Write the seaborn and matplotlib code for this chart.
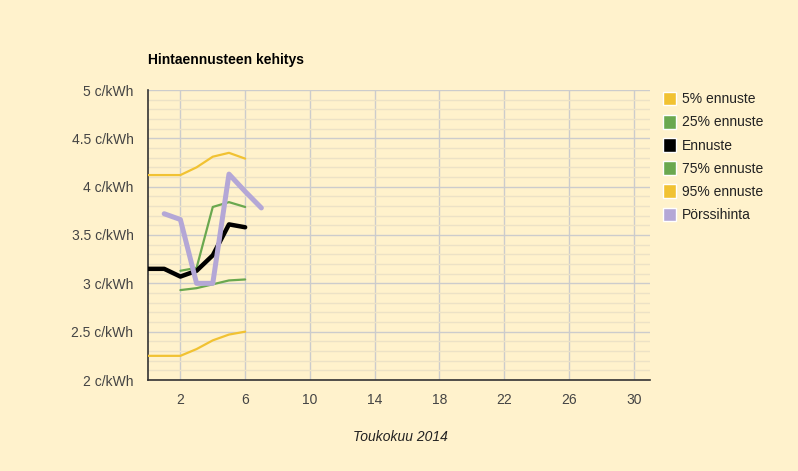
import matplotlib
matplotlib.use("Agg")
import matplotlib.pyplot as plt
from matplotlib.patches import Patch
from matplotlib.ticker import MultipleLocator, FixedLocator
import numpy as np
import pandas as pd
import seaborn as sns

# Päivät (toukokuu 2014) ja ennusteet c/kWh
paivat_ennuste = [0, 1, 2, 3, 4, 5, 6]
ennuste_5 = [2.25, 2.25, 2.25, 2.32, 2.41, 2.47, 2.50]
ennuste = [3.15, 3.15, 3.07, 3.13, 3.29, 3.61, 3.58]
ennuste_95 = [4.12, 4.12, 4.12, 4.20, 4.31, 4.35, 4.29]

paivat_kvartiili = [2, 3, 4, 5, 6]
ennuste_25 = [2.93, 2.95, 2.99, 3.03, 3.04]
ennuste_75 = [3.13, 3.16, 3.79, 3.84, 3.79]

paivat_porssi = [1, 2, 3, 4, 5, 6, 7]
porssihinta = [3.72, 3.66, 3.00, 3.00, 4.13, 3.95, 3.78]

x_tikit = [2, 6, 10, 14, 18, 22, 26, 30]
y_tikit = [2, 2.5, 3, 3.5, 4, 4.5, 5]

KELTAINEN = "#f1c232"
VIHREA = "#6aa84f"
MUSTA = "#000000"
VIOLETTI = "#b4a7d6"
TAUSTA = "#fff2cc"

sns.set_theme(style="white")
plt.rcParams["font.family"] = ["Liberation Sans", "DejaVu Sans"]

fig = plt.figure(figsize=(7.98, 4.71), dpi=100, facecolor=TAUSTA)
ax = fig.add_axes([148 / 798, 91 / 471, 502 / 798, 290 / 471])
ax.set_facecolor(TAUSTA)

sarjat = [
    (paivat_ennuste, ennuste_5, KELTAINEN, 1.6),
    (paivat_kvartiili, ennuste_25, VIHREA, 1.6),
    (paivat_ennuste, ennuste_95, KELTAINEN, 1.6),
    (paivat_kvartiili, ennuste_75, VIHREA, 1.6),
    (paivat_ennuste, ennuste, MUSTA, 3.2),
    (paivat_porssi, porssihinta, VIOLETTI, 3.6),
]
for x, y, vari, lw in sarjat:
    sns.lineplot(x=x, y=y, color=vari, linewidth=lw, ax=ax, zorder=3)

ax.set_xlim(0, 31)
ax.set_ylim(2, 5)
ax.xaxis.set_major_locator(FixedLocator(x_tikit))
ax.yaxis.set_major_locator(FixedLocator(y_tikit))
ax.yaxis.set_minor_locator(MultipleLocator(0.1))
ax.set_yticklabels([f"{v:g} c/kWh" for v in y_tikit])

ax.grid(which="major", axis="both", color="#cccccc", linewidth=1, zorder=1)
ax.grid(which="minor", axis="y", color="#ece2c6", linewidth=1, zorder=0)
ax.set_axisbelow(True)

for s in ["top", "right"]:
    ax.spines[s].set_visible(False)
for s in ["left", "bottom"]:
    ax.spines[s].set_color("#333333")
    ax.spines[s].set_linewidth(1.2)

ax.tick_params(axis="both", which="both", length=0, labelsize=10, colors="#444444")
ax.tick_params(axis="y", pad=10.5)
ax.tick_params(axis="x", pad=9)

ax.set_xlabel("")
ax.set_ylabel("")
fig.text(400 / 798, 1 - 437 / 471, "Toukokuu 2014", ha="center", va="center",
         fontsize=10, style="italic", color="#222222")
fig.text(148 / 798, 1 - 60 / 471, "Hintaennusteen kehitys", ha="left", va="center",
         fontsize=10, fontweight="bold", color="#000000")

kahvat = [
    Patch(facecolor=KELTAINEN, label="5% ennuste"),
    Patch(facecolor=VIHREA, label="25% ennuste"),
    Patch(facecolor=MUSTA, label="Ennuste"),
    Patch(facecolor=VIHREA, label="75% ennuste"),
    Patch(facecolor=KELTAINEN, label="95% ennuste"),
    Patch(facecolor=VIOLETTI, label="Pörssihinta"),
]
leg = fig.legend(handles=kahvat, loc="upper left", bbox_to_anchor=(657 / 798, 1 - 86 / 471),
                 frameon=False, fontsize=10, handlelength=0.95, handleheight=1.15,
                 handletextpad=0.45, labelspacing=0.62, borderaxespad=0)
for t in leg.get_texts():
    t.set_color("#222222")

fig.savefig("out.png", dpi=100, facecolor=TAUSTA)
